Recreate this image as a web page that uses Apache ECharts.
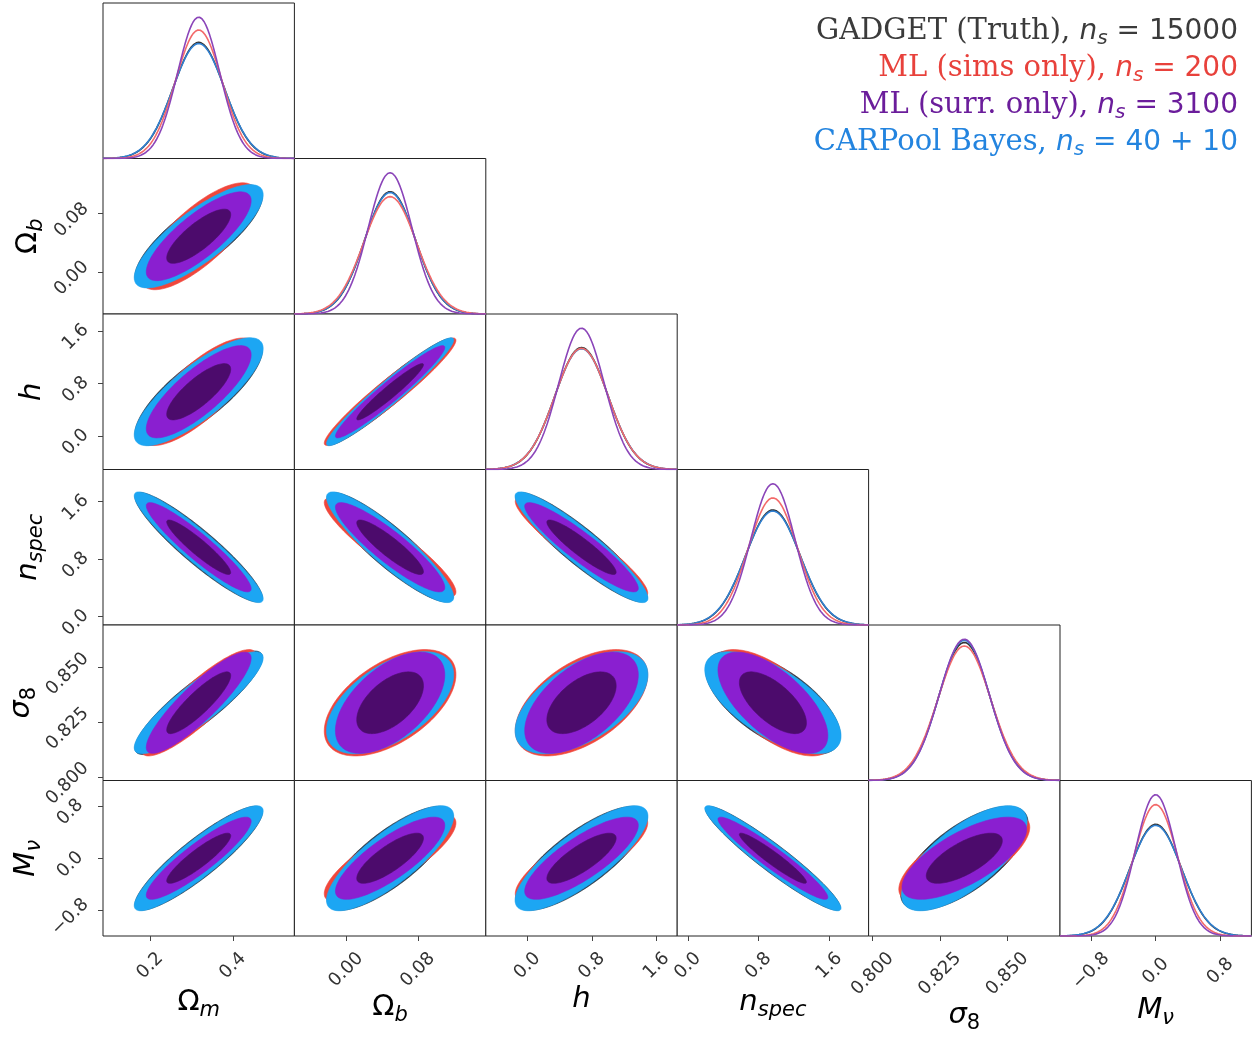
<!DOCTYPE html>
<html><head><meta charset="utf-8">
<script src="https://cdn.jsdelivr.net/npm/echarts@6/dist/echarts.min.js"></script>
<style>html,body{margin:0;padding:0;background:#fff}#c{width:1253px;height:1037px}</style>
</head><body><div id="c"></div>
<script>
// ---------- data ----------
const paramKeys   = ['Om', 'Ob', 'h', 'ns', 's8', 'Mnu'];
const fiducial    = [0.3175, 0.049, 0.6711, 0.9624, 0.834, 0.0];
const axisMin     = [0.0861, -0.0576, -0.5144, -0.1201, 0.7985, -1.185];
const axisMax     = [0.5489, 0.1556, 1.8566, 2.0449, 0.8695, 1.185];
const tickValues  = [[0.2, 0.4], [0.0, 0.08], [0.0, 0.8, 1.6], [0.0, 0.8, 1.6], [0.800, 0.825, 0.850], [-0.8, 0.0, 0.8]];
const tickDecimals = [1, 2, 1, 1, 3, 1];

// 1-sigma marginal widths per dataset (order: Om, Ob, h, ns, s8, Mnu)
const sigmaGadget  = [0.0621, 0.0283, 0.328, 0.307, 0.00952, 0.319];
const sigmaSims    = [0.0561, 0.0295, 0.330, 0.278, 0.00977, 0.271];
const sigmaSurr    = [0.0510, 0.0245, 0.283, 0.250, 0.00930, 0.252];
const sigmaCarpool = [0.0627, 0.0285, 0.331, 0.310, 0.00937, 0.322];

// correlation coefficients, lower triangle: (1,0),(2,0),(2,1),(3,0),(3,1),(3,2),(4,0)...(5,4)
const corrShared  = [0.80, 0.80, 0.96, -0.93, -0.90, -0.92, 0.88, 0.55, 0.55, -0.65, 0.90, 0.80, 0.80, -0.95, 0.70];
const corrSims    = [0.76, 0.77, 0.955, -0.93, -0.90, -0.92, 0.87, 0.53, 0.52, -0.64, 0.90, 0.80, 0.80, -0.95, 0.70];
const corrGadget  = [0.78, 0.78, 0.955, -0.92, -0.89, -0.91, 0.87, 0.53, 0.53, -0.63, 0.89, 0.78, 0.78, -0.945, 0.68];

const legendLabels = ['GADGET (Truth), ', 'ML (sims only), ', 'ML (surr. only), ', 'CARPool Bayes, '];
const legendCounts = ['15000', '200', '3100', '40 + 10'];

// ---------- styling ----------
const left0 = 103, colW = 191.4, top0 = 3, rowH = 155.5;
const R68 = Math.sqrt(2.30), R95 = Math.sqrt(6.18);
const datasets = {
  gadget:  {sigma: sigmaGadget,  corr: corrGadget, fillOut: '#2a3440', fillIn: '#1b2028', line: '#333333', text: '#3b3b3b'},
  sims:    {sigma: sigmaSims,    corr: corrSims,   fillOut: '#f0473c', fillIn: '#b01818', line: '#f36a6a', text: '#e8413b'},
  surr:    {sigma: sigmaSurr,    corr: corrShared, fillOut: '#8a1fd0', fillIn: '#4c0b6c', line: '#8b45b9', text: '#6b1d9b'},
  carpool: {sigma: sigmaCarpool, corr: corrShared, fillOut: '#1ca6f3', fillIn: '#0d63a6', line: '#2f80d2', text: '#2384df'}
};
const contourOrder = ['gadget', 'sims', 'carpool', 'surr'];
const lineOrder = ['gadget', 'carpool', 'sims', 'surr'];
const legendOrder = ['gadget', 'sims', 'surr', 'carpool'];

const FS = 18;
function charW(ch) { if (ch === '.') return 0.318; if (ch === '\u2212') return 0.838; return 0.636; }
function fmt(k) {
  return function (v) {
    const s = Math.abs(v).toFixed(tickDecimals[k]);
    return v < -1e-12 ? '\u2212' + s : s;
  };
}
function labelHalf(k) {
  let m = 0;
  tickValues[k].forEach(v => {
    const s = fmt(k)(v); let w = 0;
    for (const ch of s) w += charW(ch);
    m = Math.max(m, (w * FS + 0.73 * FS) / (2 * Math.SQRT2));
  });
  return m;
}
const nameRich = {
  up:   {fontFamily: 'DejaVu Sans', fontSize: 29, color: '#000', verticalAlign: 'middle'},
  it:   {fontFamily: 'DejaVu Sans', fontStyle: 'italic', fontSize: 29, color: '#000', verticalAlign: 'middle'},
  sub:  {fontFamily: 'DejaVu Sans', fontStyle: 'italic', fontSize: 21, color: '#000', padding: [16, 0, 0, 0], verticalAlign: 'middle'},
  subu: {fontFamily: 'DejaVu Sans', fontSize: 21, color: '#000', padding: [16, 0, 0, 0], verticalAlign: 'middle'}
};
const axisNames = ['{up|\u03a9}{sub|m}', '{up|\u03a9}{sub|b}', '{it|h}', '{it|n}{sub|spec}', '{it|\u03c3}{subu|8}', '{it|M}{sub|\u03bd}'];

function corrIndex(i, j) { return i * (i - 1) / 2 + j; }
function ellipse(j, i, d, r) {
  const sx = d.sigma[j], sy = d.sigma[i], rho = d.corr[corrIndex(i, j)];
  const pts = [], N = 120, q = Math.sqrt(1 - rho * rho);
  for (let t = 0; t < N; t++) {
    const a = 2 * Math.PI * t / N;
    pts.push([fiducial[j] + r * sx * Math.cos(a), fiducial[i] + r * sy * (rho * Math.cos(a) + q * Math.sin(a))]);
  }
  return pts;
}
function pdf(x, mu, s) { return Math.exp(-0.5 * ((x - mu) / s) ** 2) / (s * Math.sqrt(2 * Math.PI)); }

const grids = [], xAxes = [], yAxes = [], series = [];
let gi = 0;
for (let i = 0; i < 6; i++) {
  for (let j = 0; j <= i; j++) {
    grids.push({left: left0 + j * colW, top: top0 + i * rowH, width: colW, height: rowH,
      show: true, borderColor: '#222', borderWidth: 1, backgroundColor: '#fff'});
    const bottom = (i === 5), leftCol = (j === 0 && i > 0);
    xAxes.push({
      gridIndex: gi, type: 'value', min: axisMin[j], max: axisMax[j], position: 'bottom',
      axisLine: {show: false, onZero: false}, splitLine: {show: false},
      axisTick: {show: bottom, customValues: tickValues[j], length: 5, lineStyle: {color: '#444'}},
      axisLabel: {show: bottom, customValues: tickValues[j], formatter: fmt(j), rotate: 45, align: 'center', verticalAlign: 'middle',
        margin: 15 + labelHalf(j), fontSize: FS, color: '#333', fontFamily: 'DejaVu Sans'},
      name: bottom ? axisNames[j] : '', nameLocation: 'middle', nameGap: 48,
      nameTextStyle: {rich: nameRich}
    });
    if (i === j) {
      let peak = 0;
      lineOrder.forEach(k => { peak = Math.max(peak, 1 / (datasets[k].sigma[i] * Math.sqrt(2 * Math.PI))); });
      yAxes.push({gridIndex: gi, type: 'value', min: 0, max: peak * 1.1, show: false, axisLine: {onZero: false}});
      const xs = [];
      for (let t = 0; t <= 240; t++) xs.push(axisMin[j] + (axisMax[j] - axisMin[j]) * t / 240);
      lineOrder.forEach(k => {
        const d = datasets[k];
        series.push({type: 'line', xAxisIndex: gi, yAxisIndex: gi, silent: true, showSymbol: false, animation: false,
          data: xs.map(x => [x, pdf(x, fiducial[i], d.sigma[i])]),
          lineStyle: {color: d.line, width: 1.6}});
      });
    } else {
      yAxes.push({
        gridIndex: gi, type: 'value', min: axisMin[i], max: axisMax[i], position: 'left',
        axisLine: {show: false, onZero: false}, splitLine: {show: false},
        axisTick: {show: leftCol, customValues: tickValues[i], length: 5, lineStyle: {color: '#444'}},
        axisLabel: {show: leftCol, customValues: tickValues[i], formatter: fmt(i), rotate: 45, align: 'center', verticalAlign: 'top',
          margin: 19 + labelHalf(i), fontSize: FS, color: '#333', fontFamily: 'DejaVu Sans'},
        name: leftCol ? axisNames[i] : '', nameLocation: 'middle', nameGap: 56, nameRotate: 90,
        nameTextStyle: {rich: nameRich}
      });
      const contours = [];
      contourOrder.forEach(k => {
        const d = datasets[k];
        contours.push({pts: ellipse(j, i, d, R95), fill: d.fillOut});
        contours.push({pts: ellipse(j, i, d, R68), fill: d.fillIn});
      });
      series.push({type: 'custom', xAxisIndex: gi, yAxisIndex: gi, silent: true, animation: false,
        data: contours.map(() => [fiducial[j], fiducial[i]]),
        renderItem: function (p, api) {
          const c = contours[p.dataIndex];
          return {type: 'polygon', z2: p.dataIndex, shape: {points: c.pts.map(q => api.coord(q))},
            style: {fill: c.fill, stroke: c.fill, lineWidth: 0.6}};
        }});
    }
    gi++;
  }
}

const titles = legendOrder.map((k, n) => {
  const col = datasets[k].text;
  const base = {color: col, fontWeight: 'normal', verticalAlign: 'middle'};
  return {
    text: '{t|' + legendLabels[n] + '}{n|n}{s|s}{m| = ' + legendCounts[n] + '}',
    right: 15, top: 14 + n * 37, padding: 0,
    textStyle: {fontWeight: 'normal', rich: {
      t: Object.assign({fontFamily: 'DejaVu Serif', fontSize: 29}, base),
      n: Object.assign({fontFamily: 'DejaVu Sans', fontStyle: 'italic', fontSize: 28}, base),
      s: Object.assign({fontFamily: 'DejaVu Sans', fontStyle: 'italic', fontSize: 20, padding: [15, 0, 0, 0]}, base),
      m: Object.assign({fontFamily: 'DejaVu Sans', fontSize: 28}, base)
    }}
  };
});

const chart = echarts.init(document.getElementById('c'));
chart.setOption({animation: false, backgroundColor: '#fff', title: titles, grid: grids, xAxis: xAxes, yAxis: yAxes, series: series});
</script></body></html>
